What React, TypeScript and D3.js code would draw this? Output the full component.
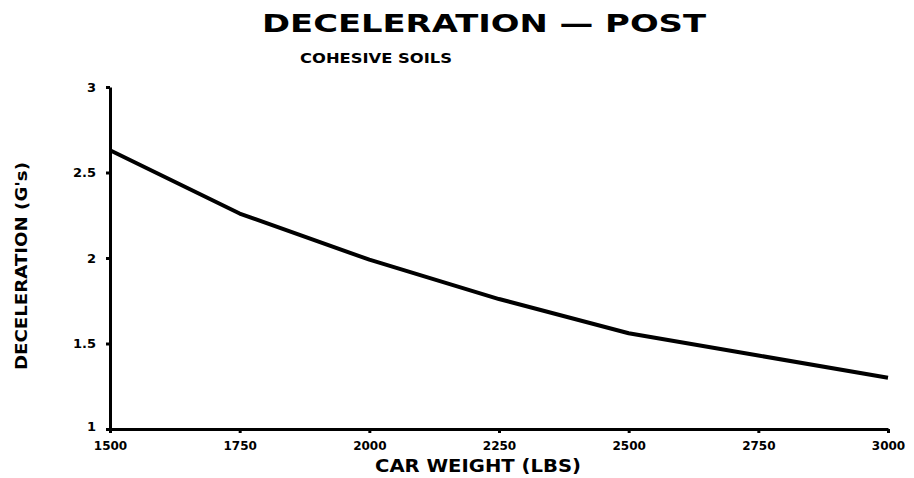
import * as React from "react";
import * as d3 from "d3";

const weights = [1500, 1750, 2000, 2250, 2500, 2750, 3000];
const decel = [2.63, 2.26, 1.99, 1.76, 1.56, 1.43, 1.30];
const xTicks = [1500, 1750, 2000, 2250, 2500, 2750, 3000];
const yTicks = [1, 1.5, 2, 2.5, 3];

const FONT = "'DejaVu Sans', sans-serif";

export default function App() {
  const node = React.useRef<SVGSVGElement>(null);

  React.useEffect(() => {
    const svg = d3.select(node.current);
    svg.selectAll("*").remove();

    const x = d3.scaleLinear().domain([1500, 3000]).range([110, 888]);
    const y = d3.scaleLinear().domain([1, 3]).range([429, 87]);

    // title
    svg.append("text")
      .attr("x", 484).attr("y", 32)
      .attr("text-anchor", "middle")
      .attr("font-family", FONT).attr("font-weight", "bold")
      .attr("font-size", 24)
      .attr("textLength", 444).attr("lengthAdjust", "spacingAndGlyphs")
      .text("DECELERATION — POST");

    svg.append("text")
      .attr("x", 376).attr("y", 63)
      .attr("text-anchor", "middle")
      .attr("font-family", FONT).attr("font-weight", "bold")
      .attr("font-size", 14)
      .attr("textLength", 152).attr("lengthAdjust", "spacingAndGlyphs")
      .text("COHESIVE SOILS");

    // x axis
    const gx = svg.append("g").attr("transform", "translate(0,429)");
    gx.call(d3.axisBottom(x).tickValues(xTicks).tickSize(4).tickSizeOuter(0).tickPadding(8)
      .tickFormat(d3.format("d")));
    gx.select(".domain").attr("stroke", "#000").attr("stroke-width", 3);
    gx.selectAll(".tick line").attr("stroke", "#000").attr("stroke-width", 3);
    gx.selectAll(".tick text")
      .attr("font-family", FONT).attr("font-weight", "bold").attr("font-size", 12)
      .attr("fill", "#000");

    // y axis
    const gy = svg.append("g").attr("transform", "translate(110,0)");
    gy.call(d3.axisLeft(y).tickValues(yTicks).tickSize(4).tickSizeOuter(0).tickPadding(10)
      .tickFormat((d: any) => String(d)));
    gy.select(".domain").attr("stroke", "#000").attr("stroke-width", 3);
    gy.selectAll(".tick line").attr("stroke", "#000").attr("stroke-width", 3);
    gy.selectAll(".tick text")
      .attr("font-family", FONT).attr("font-weight", "bold").attr("font-size", 13)
      .attr("fill", "#000");
    gy.selectAll(".tick text").filter((d: any) => d === 1).attr("dy", "0.1em");

    // axis labels
    svg.append("text")
      .attr("x", 478).attr("y", 472)
      .attr("text-anchor", "middle")
      .attr("font-family", FONT).attr("font-weight", "bold")
      .attr("font-size", 18)
      .attr("textLength", 206).attr("lengthAdjust", "spacingAndGlyphs")
      .text("CAR WEIGHT (LBS)");

    svg.append("text")
      .attr("transform", "translate(27,266) rotate(-90)")
      .attr("text-anchor", "middle")
      .attr("font-family", FONT).attr("font-weight", "bold")
      .attr("font-size", 15)
      .attr("textLength", 208).attr("lengthAdjust", "spacingAndGlyphs")
      .text("DECELERATION (G's)");

    // curve
    const line = d3.line<number>()
      .x((d, i) => x(weights[i]))
      .y((d) => y(d));

    svg.append("path")
      .datum(decel)
      .attr("fill", "none")
      .attr("stroke", "#000")
      .attr("stroke-width", 4)
      .attr("stroke-linejoin", "round")
      .attr("d", line);
  }, []);

  return (
    <svg
      ref={node}
      width={914}
      height={478}
      style={{ position: "absolute", left: 0, top: 0, background: "#fff" }}
    />
  );
}
